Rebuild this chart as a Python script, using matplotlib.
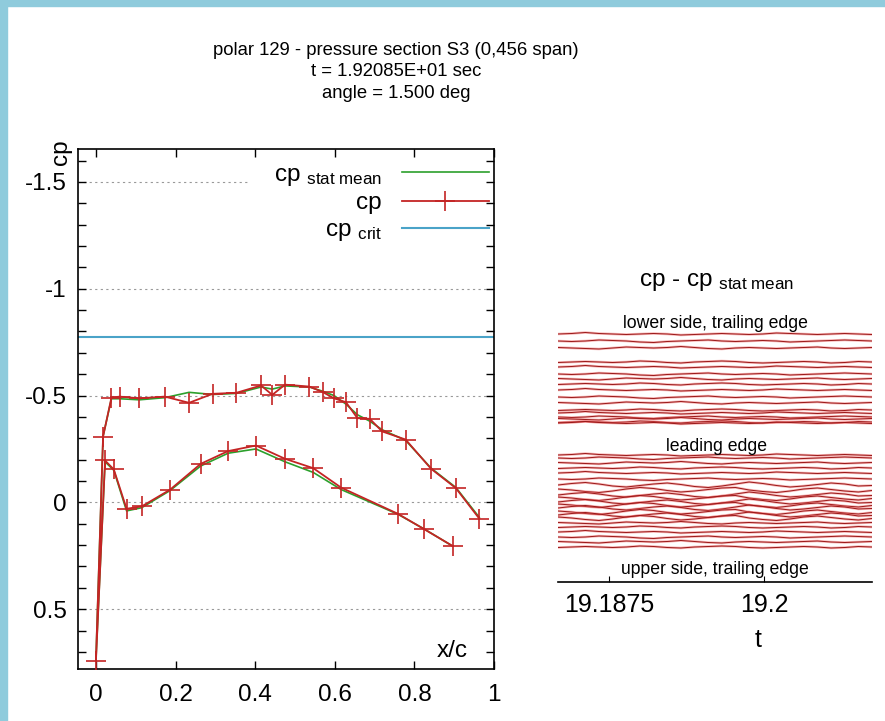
import matplotlib
matplotlib.use('Agg')
import matplotlib.pyplot as plt
import numpy as np
from matplotlib.ticker import MultipleLocator
from matplotlib.patches import Rectangle

plt.rcParams['font.family'] = 'Liberation Sans'
plt.rcParams['mathtext.fontset'] = 'custom'
plt.rcParams['mathtext.rm'] = 'Liberation Sans'
plt.rcParams['mathtext.it'] = 'Liberation Sans:italic'
plt.rcParams['axes.unicode_minus'] = False

# cp along the section, from upper side trailing edge round the nose to lower side trailing edge
x_c = [0.963, 0.904, 0.842, 0.778, 0.719, 0.688, 0.657, 0.628, 0.598, 0.570, 0.536,
       0.475, 0.443, 0.415, 0.353, 0.293, 0.234, 0.173, 0.109, 0.060, 0.039, 0.018,
       0.000, 0.023, 0.045, 0.077, 0.115, 0.186, 0.263, 0.332, 0.402, 0.475, 0.546,
       0.616, 0.758, 0.825, 0.896]
cp = [0.076, -0.067, -0.157, -0.294, -0.332, -0.391, -0.394, -0.469, -0.487, -0.516, -0.542,
      -0.551, -0.503, -0.547, -0.513, -0.508, -0.466, -0.495, -0.487, -0.495, -0.490, -0.308,
      0.743, -0.196, -0.154, 0.030, 0.019, -0.059, -0.180, -0.240, -0.266, -0.204, -0.160,
      -0.069, 0.053, 0.126, 0.204]
cp_mean = [0.070, -0.070, -0.160, -0.290, -0.340, -0.380, -0.410, -0.460, -0.500, -0.520, -0.540,
           -0.545, -0.530, -0.540, -0.510, -0.505, -0.515, -0.490, -0.480, -0.485, -0.485, -0.310,
           0.740, -0.190, -0.150, 0.040, 0.025, -0.055, -0.170, -0.230, -0.250, -0.190, -0.140,
           -0.060, 0.055, 0.125, 0.205]
cp_crit = -0.775

# right panel: cp - cp stat mean per station, stacked (offsets in px above time axis)
t = [19.1834, 19.1845, 19.1856, 19.1867, 19.1878, 19.1889, 19.1900, 19.1911, 19.1922, 19.1933,
     19.1944, 19.1955, 19.1966, 19.1977, 19.1988, 19.1999, 19.2010, 19.2021, 19.2032, 19.2043,
     19.2054, 19.2065, 19.2076, 19.2087]
lower_offsets = [248, 241, 234, 220, 215, 208, 203, 198, 192, 185, 179, 172, 169, 165, 163, 160, 159]
upper_offsets = [127, 124, 119, 114, 109, 103, 97, 92, 87, 84, 80, 77, 74, 70, 67, 64, 59, 55, 50, 45, 40, 35]
lower_prof = [0, 1, 2, 3, 0, 1, 2, 3, 0, 1, 2, 3, 0, 1, 2, 3, 0]
upper_prof = [0, 1, 2, 3, 0, 1, 4, 5, 4, 5, 4, 5, 4, 5, 4, 5, 2, 3, 0, 1, 2, 3]
profiles = [
    [0, 0.5, 1.5, 0.5, 0, -0.5, 0, 0.5, 0, -1, -0.5, 0, 0.5, 0, -0.5, 0, 1, 0.5, 0, -0.5, 0, 0.5, 0, -0.5],
    [0, -0.5, 0, 1, 0.5, 0, -1, -1.5, -0.5, 0, 0.5, 1, 0, -0.5, 0, 0.5, 0, -1, -0.5, 0, 0.5, 1, 0.5, 0],
    [0.5, 0, -0.5, -1, 0, 1, 0.5, 0, 0.5, 1.5, 0.5, -0.5, -1, 0, 0.5, 0, -0.5, 0, 0.5, 1, 0, -0.5, 0, 0.5],
    [-0.5, 0, 0.5, 0, -0.5, 0, 1, 0.5, -0.5, -1, 0, 0.5, 1, 0.5, -0.5, -1, -0.5, 0, 0.5, 0, -1, -0.5, 0.5, 0],
    [0, 1.5, 2.5, 1, -1, -2, -0.5, 1, 2, 0.5, -1.5, -2.5, -1, 1, 3, 1.5, -0.5, -2, -1, 0.5, 2, 1, -1, -0.5],
    [1, 0, -1.5, -2.5, -1, 1, 2.5, 1.5, -0.5, -2, -1, 0.5, 2, 2.5, 0, -1.5, -2.5, -1, 1, 2, 0.5, -1, -2, -0.5],
]

W, H = 885, 721
fig = plt.figure(figsize=(W / 100, H / 100), dpi=100)
fig.patches.append(Rectangle((0, 1 - 6 / H), 1, 6 / H, transform=fig.transFigure, color='#8fcbdc', zorder=0))
fig.patches.append(Rectangle((0, 0), 7 / W, 1, transform=fig.transFigure, color='#8fcbdc', zorder=0))

def fx(px):
    return px / W

def fy(py):
    return 1 - py / H

fig.text(fx(396), fy(72), 'polar 129 - pressure section S3 (0,456 span)\nt = 1.92085E+01 sec\nangle = 1.500 deg',
         ha='center', va='center', fontsize=13.3, linespacing=1.33)

# ---- left: cp over x/c
ax = fig.add_axes([fx(78), fy(669), fx(494) - fx(78), fy(149) - fy(669)])
ax.set_xlim(-0.045, 1.0)
ax.set_ylim(0.78, -1.654)
ax.plot(x_c, cp_mean, color='#2ca02c', lw=1.2, label=r'cp$\ _{\rm stat\ mean}$', zorder=3)
ax.plot(x_c, cp, color='#c42424', lw=1.3, marker='+', ms=15, mew=1.2, label='cp', zorder=4)
ax.axhline(cp_crit, color='#4aa3c8', lw=1.5, label=r'cp$\ _{\rm crit}$', zorder=2)

yt = [-1.5, -1, -0.5, 0, 0.5]
for v in yt:
    ax.axhline(v, xmax=0.409 if v == -1.5 else 1, color='#999999', lw=0.8, ls=(0, (2, 3)), zorder=1)
ax.set_yticks(yt)
ax.set_yticklabels(['-1.5', '-1', '-0.5', '0', '0.5'])
ax.yaxis.set_minor_locator(MultipleLocator(0.1))
ax.set_xticks([0, 0.2, 0.4, 0.6, 0.8, 1])
ax.set_xticklabels(['0', '0.2', '0.4', '0.6', '0.8', '1'])
ax.tick_params(which='both', direction='in', length=6, width=1, top=True, right=True, labelsize=17.5)
ax.tick_params(axis='x', pad=11)
ax.tick_params(axis='y', pad=8)
for s in ax.spines.values():
    s.set_linewidth(1.2)

leg = ax.legend(loc='upper right', bbox_to_anchor=(0.988, 0.972), frameon=False, markerfirst=False,
                fontsize=17.5, handlelength=3.6, handletextpad=0.8, labelspacing=0.2,
                borderpad=0, borderaxespad=0, numpoints=1)

fig.text(fx(61), fy(152), 'cp', rotation=90, ha='center', va='center', fontsize=17.5)
fig.text(fx(452), fy(651), 'x/c', ha='center', va='center', fontsize=17.5)

# ---- right: stacked fluctuation traces
ax2 = fig.add_axes([fx(558), fy(582), fx(872) - fx(558), fy(300) - fy(582)])
ax2.set_xlim(t[0], t[-1])
ax2.set_ylim(0, 282)
for offs, profs in ((lower_offsets, lower_prof), (upper_offsets, upper_prof)):
    for off, k in zip(offs, profs):
        y = np.array(profiles[k]) + off
        ax2.plot(t, y, color='#f06060', lw=1.8, alpha=0.45, solid_capstyle='butt')
        ax2.plot(t, y, color='#9a1818', lw=0.7)
for side in ('top', 'left', 'right'):
    ax2.spines[side].set_visible(False)
ax2.spines['bottom'].set_linewidth(1.2)
ax2.set_yticks([])
ax2.set_xticks([19.1875, 19.2])
ax2.set_xticklabels(['19.1875', '19.2'])
ax2.tick_params(axis='x', direction='in', length=4, labelsize=18, pad=8)

fig.text(fx(717), fy(282), r'cp - cp$\ _{\rm stat\ mean}$', ha='center', va='center', fontsize=17.5)
fig.text(fx(715), fy(323), 'lower side, trailing edge', ha='center', va='center', fontsize=12.7)
fig.text(fx(716), fy(447), 'leading edge', ha='center', va='center', fontsize=12.7)
fig.text(fx(715), fy(570), 'upper side, trailing edge', ha='center', va='center', fontsize=12.7)
fig.text(fx(758), fy(640), 't', ha='center', va='center', fontsize=18)

fig.savefig('out.png', dpi=100)
